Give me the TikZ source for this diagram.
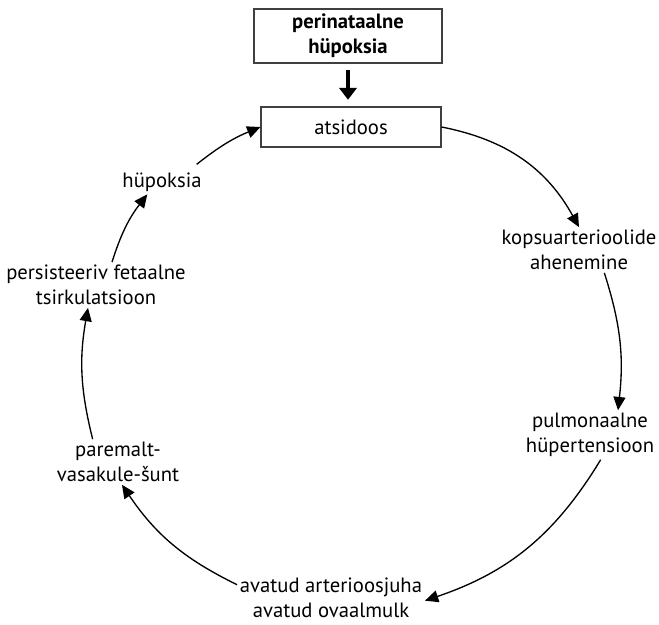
\documentclass[tikz,border=0pt]{standalone}
\usepackage{fontspec}
\setmainfont{PT Sans}
\usetikzlibrary{arrows.meta}

\tikzset{
  box/.style={draw=black!75, line width=0.8pt, align=center, inner sep=0pt},
  lbl/.style={align=center, inner sep=2pt},
  cyc/.style={line width=1pt, -{Triangle[length=10pt,width=9pt]}},
  fat/.style={line width=3pt, -{Triangle[length=9pt,width=13pt]}},
}

\begin{document}
\begin{tikzpicture}[x=0.75pt,y=0.75pt,font=\fontsize{15.5}{18.75}\selectfont]
  \useasboundingbox (0,0) rectangle (659,624);

  % boxes on top
  \node[box, minimum width=141pt, minimum height=40.5pt, font=\bfseries\fontsize{15.5}{18.75}\selectfont] (trigger) at (348,588) {perinataalne\\hüpoksia};
  \node[box, minimum width=135pt, minimum height=30pt] (acid) at (351,497) {atsidoos};

  % steps of the circle
  \node[lbl] (vasoc) at (579,374) {kopsuarterioolide\\ahenemine};
  \node[lbl] (pht) at (590,189) {pulmonaalne\\hüpertensioon};
  \node[lbl] (ductus) at (331,26) {avatud arterioosjuha\\avatud ovaalmulk};
  \node[lbl] (shunt) at (118,162) {paremalt-\\vasakule-šunt};
  \node[lbl] (pfc) at (96,339) {persisteeriv fetaalne\\tsirkulatsioon};
  \node[lbl] (hypox) at (162,442) {hüpoksia};

  % trigger into the circle
  \draw[fat, shorten <=5pt, shorten >=5pt] (trigger.south) -- (trigger.south |- acid.north);

  % the vicious circle, clockwise
  \draw[cyc] (acid.east) to[bend left=25] (vasoc.north);
  \draw[cyc] ([xshift=19pt]vasoc.south) to[bend left=12] ([xshift=21pt]pht.north);
  \draw[cyc] ([xshift=8pt]pht.south) to[bend left=20] ([yshift=-2pt]ductus.east);
  \draw[cyc] ([yshift=10pt]ductus.west) to[bend left=15] ([xshift=3pt]shunt.south);
  \draw[cyc] ([xshift=-19pt]shunt.north) to[bend left=12] ([xshift=-6pt]pfc.south);
  \draw[cyc] ([xshift=12pt]pfc.north) to[bend left=10] ([xshift=-11pt]hypox.south);
  \draw[cyc] ([xshift=26pt,yshift=4pt]hypox.north) to[bend left=8] (acid.west);
\end{tikzpicture}
\end{document}
